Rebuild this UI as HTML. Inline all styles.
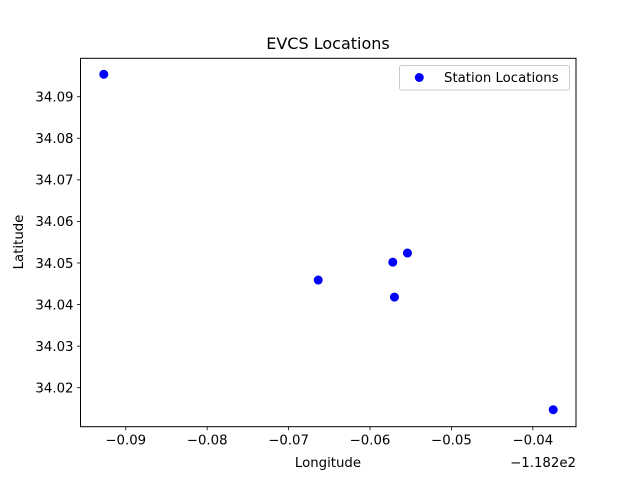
<!DOCTYPE html>
<html><head><meta charset="utf-8"><style>body{margin:0;background:#fff}svg text{font-family:"DejaVu Sans","Liberation Sans",sans-serif;fill:#000}</style></head>
<body>
<svg width="640" height="480" viewBox="0 0 640 480">
<g id="plot"></g>
</svg>
<script>
const lons = [-0.0927, -0.06636, -0.0572, -0.0554, -0.0570, -0.0375];
const lats = [34.0954, 34.0459, 34.0502, 34.0524, 34.0418, 34.0147];
const xTicks = [-0.09, -0.08, -0.07, -0.06, -0.05, -0.04];
const xTickLabels = ["\u22120.09", "\u22120.08", "\u22120.07", "\u22120.06", "\u22120.05", "\u22120.04"];
const yTicks = [34.02, 34.03, 34.04, 34.05, 34.06, 34.07, 34.08, 34.09];
const yTickLabels = ["34.02", "34.03", "34.04", "34.05", "34.06", "34.07", "34.08", "34.09"];

const L=80.5,R=576,T=58.3,B=426.7;
const xMin=-0.09556,xMax=-0.0347,yMin=34.01062,yMax=34.09924;
const xs=v=>L+(v-xMin)/(xMax-xMin)*(R-L);
const ys=v=>B-(v-yMin)/(yMax-yMin)*(B-T);
const NS="http://www.w3.org/2000/svg";
const g=document.getElementById('plot');
function mk(tag,attrs,parent){const e=document.createElementNS(NS,tag);for(const k in attrs)e.setAttribute(k,attrs[k]);(parent||g).appendChild(e);return e;}

const frame=mk('rect',{x:L,y:T,width:R-L,height:B-T,fill:'none',stroke:'#000','stroke-width':1});



xTicks.forEach((t,i)=>{
  const x=xs(t);
  const l=mk('line',{x1:x,x2:x,y1:B,y2:B+3.5,stroke:'#000','stroke-width':0.8});
  
  
  const tx=mk('text',{x:x,y:B+18,'text-anchor':'middle','font-size':'13.3'});
  tx.textContent=xTickLabels[i];
  
  
});
yTicks.forEach((t,i)=>{
  const y=ys(t);
  const l=mk('line',{x1:L-3.5,x2:L,y1:y,y2:y,stroke:'#000','stroke-width':0.8});
  
  
  const tx=mk('text',{x:L-7,y:y+4.8,'text-anchor':'end','font-size':'13.3'});
  tx.textContent=yTickLabels[i];
  
  
});
lons.forEach((v,i)=>{
  const c=mk('circle',{cx:xs(v),cy:ys(lats[i]),r:4.5,fill:'#0000ff'});
  
  
});
</script>
<svg width="640" height="480" style="position:absolute;left:0;top:0">
<text x="328" y="49" text-anchor="middle" font-size="16">EVCS Locations</text>
<text x="328" y="467" text-anchor="middle" font-size="13.3">Longitude</text>
<text x="576" y="467" text-anchor="end" font-size="13.3">−1.182e2</text>
<text transform="translate(23,242) rotate(-90)" text-anchor="middle" font-size="13.3">Latitude</text>
<g>
<rect x="399.5" y="65.5" width="170" height="24.5" rx="2" fill="#fff" fill-opacity="0.8" stroke="#ccc"/>
<circle cx="419.3" cy="77.5" r="4.5" fill="#0000ff"/>
<text x="444" y="82" font-size="13.3">Station Locations</text>
</g>
</svg>
</body></html>
